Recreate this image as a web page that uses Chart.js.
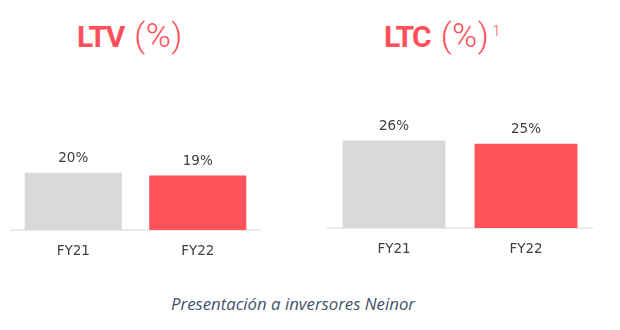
<!DOCTYPE html>
<html>
<head>
<meta charset="utf-8">
<script src="https://cdn.jsdelivr.net/npm/chart.js@4"></script>
<style>
  body { margin: 0; background: #fff; }
  #wrap { position: relative; width: 620px; height: 330px; overflow: hidden; background: #fff; }
  canvas { position: absolute; top: 0; }
  .title { position: absolute; top: 20px; height: 30px; font-family: Roboto, sans-serif; font-size: 30px; line-height: 30px; color: #ff4f59; white-space: nowrap; }
  .title b { font-weight: 700; letter-spacing: -1.5px; margin-right: 3px; }
  .title .light { font-weight: 300; font-size: 34px; letter-spacing: 0.5px; }
  .title sup { position: relative; top: -11px; font-size: 15px; font-weight: 300; vertical-align: baseline; line-height: 0; margin-left: 3px; }
  #caption { position: absolute; left: 171px; top: 293px; font-family: "Open Sans", sans-serif; font-style: italic; font-size: 16.8px; line-height: 22px; color: #44546a; }
</style>
</head>
<body>
<div id="wrap">
  <div class="title" style="left:77px"><b>LTV</b> <span class="light">(%)</span></div>
  <div class="title" style="left:384px"><b>LTC</b> <span class="light">(%)</span><sup>1</sup></div>
  <canvas id="ltvChart" width="310" height="290" style="left:0"></canvas>
  <canvas id="ltcChart" width="310" height="290" style="left:310px"></canvas>
  <div id="caption">Presentación a inversores Neinor</div>
</div>
<script>
// datos
var years = ["FY21", "FY22"];
var ltvValues = [20, 19];
var ltcValues = [26, 25];
var barColors = ["#d9d9d9", "#ff525b"];

// etiqueta con el valor encima de cada barra
var valueLabels = {
  id: "valueLabels",
  afterDatasetsDraw: function(chart) {
    var ctx = chart.ctx;
    var meta = chart.getDatasetMeta(0);
    var values = chart.data.datasets[0].data;
    ctx.save();
    ctx.font = '13.5px "DejaVu Sans"';
    ctx.fillStyle = "#404040";
    ctx.textAlign = "center";
    ctx.textBaseline = "middle";
    meta.data.forEach(function(bar, i) {
      ctx.fillText(values[i] + "%", bar.x, bar.y - 14);
    });
    ctx.restore();
  }
};

function createBarChart(id, values, yMax, padding) {
  var ctx = document.getElementById(id).getContext("2d");
  return new Chart(ctx, {
    type: "bar",
    data: {
      labels: years,
      datasets: [{
        data: values,
        backgroundColor: barColors,
        barPercentage: 0.78,
        categoryPercentage: 1
      }]
    },
    options: {
      responsive: false,
      animation: false,
      layout: { padding: padding },
      plugins: { legend: { display: false }, tooltip: { enabled: false } },
      scales: {
        x: {
          grid: { display: false, drawTicks: false },
          border: { display: true, color: "#ebebeb", width: 2 },
          ticks: { color: "#404040", font: { family: "DejaVu Sans", size: 13.5 }, padding: 13 },
          afterFit: function(scale) { scale.height = 40; }
        },
        y: { display: false, min: 0, max: yMax }
      }
    },
    plugins: [valueLabels]
  });
}

createBarChart("ltvChart", ltvValues, 30, { left: 11, right: 50, top: 144, bottom: 20 });
createBarChart("ltcChart", ltcValues, 30, { left: 18, right: 28, top: 127, bottom: 22 });
</script>
</body>
</html>
